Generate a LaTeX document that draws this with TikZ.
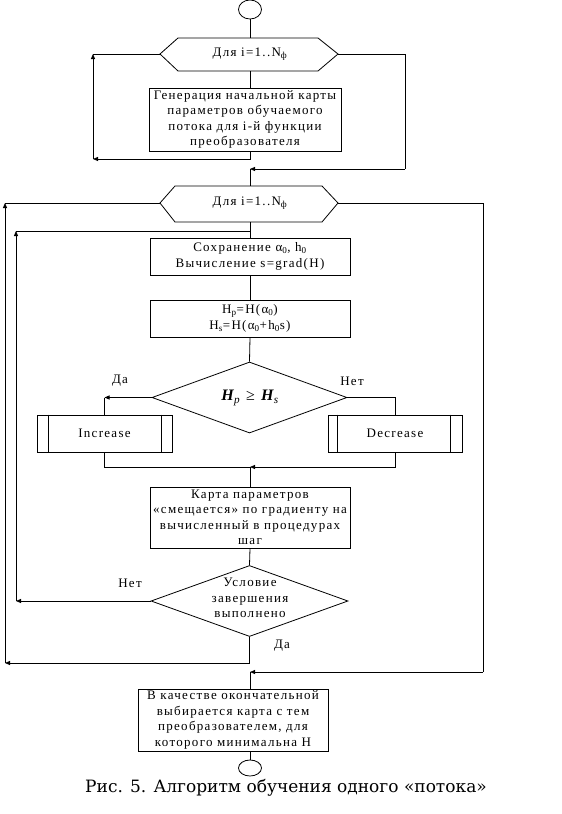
\documentclass[tikz,border=0pt]{standalone}
\usepackage{fontspec}
\setmainfont[LetterSpace=10]{Liberation Serif}
\newfontfamily\capfont{DejaVu Serif}
\newfontfamily\formfont{Liberation Serif}
\usetikzlibrary{arrows.meta,shapes.geometric,calc}
\begin{document}
\begin{tikzpicture}[x=1pt,y=-1pt,
  every node/.style={font=\fontsize{13}{15.5}\selectfont, align=center},
  box/.style={draw, rectangle, inner sep=0pt, line width=0.8pt},
  lin/.style={line width=0.8pt},
  arr/.style={lin, -{Triangle[length=5pt,width=4pt]}},
  dia/.style={draw, diamond, inner sep=0pt, line width=0.8pt},
  term/.style={draw, ellipse, inner sep=0pt, line width=0.8pt},
  lbl/.style={inner sep=0pt}
]
\fill[white] (0,0) rectangle (562,814);
\useasboundingbox (0,0) rectangle (562,814);

% terminals
\node[term, minimum width=23pt, minimum height=19pt] (s) at (250,9.5) {};
\node[term, minimum width=23pt, minimum height=16pt] (e) at (250,768) {};

% hexagon 1
\coordinate (h1w) at (160,54); \coordinate (h1e) at (338,54);
\coordinate (h1n) at (250,38); \coordinate (h1s) at (250,71);
\draw[lin] (h1w) -- (178,38) -- (318,38) -- (h1e) -- (318,71) -- (178,71) -- cycle;
\node[lbl] (hex1) at (250,54) {Для i=1..N\textsubscript{ф}};

% hexagon 2
\coordinate (h2w) at (160,203); \coordinate (h2e) at (338,203);
\coordinate (h2n) at (250,186); \coordinate (h2s) at (250,222);
\draw[lin] (h2w) -- (175,186) -- (322,186) -- (h2e) -- (322,222) -- (175,222) -- cycle;
\node[lbl] (hex2) at (250,203) {Для i=1..N\textsubscript{ф}};

% boxes
\node[box, minimum width=192pt, minimum height=63pt] (b1) at (245,119.5)
  {Генерация начальной карты\\параметров обучаемого\\потока для i-й функции\\преобразователя};
\node[box, minimum width=200pt, minimum height=37pt] (b2) at (250,256.5)
  {Сохранение α\textsubscript{0}, h\textsubscript{0}\\Вычисление s=grad(H)};
\node[box, minimum width=200pt, minimum height=37pt] (b3) at (250,318.5)
  {H\textsubscript{p}=H(α\textsubscript{0})\\H\textsubscript{s}=H(α\textsubscript{0}+h\textsubscript{0}s)};
\node[dia, minimum width=195pt, minimum height=71pt, aspect=2.75] (d1) at (249.5,397.5) {};
\node[lbl] (d1t) at (250,398) {\formfont\fontsize{16}{18}\selectfont\textbf{\textit{H}}\textsubscript{\textit{p}}\hspace{6pt}≥\hspace{6pt}\textbf{\textit{H}}\textsubscript{\textit{s}}};
\node[box, minimum width=135pt, minimum height=37pt] (inc) at (104.5,433.5) {Increase};
\node[box, minimum width=134pt, minimum height=37pt] (dec) at (395,433.5) {Decrease};
\draw[lin] ([xshift=12pt]inc.north west) -- ([xshift=12pt]inc.south west);
\draw[lin] ([xshift=-11pt]inc.north east) -- ([xshift=-11pt]inc.south east);
\draw[lin] ([xshift=10pt]dec.north west) -- ([xshift=10pt]dec.south west);
\draw[lin] ([xshift=-12pt]dec.north east) -- ([xshift=-12pt]dec.south east);
\node[box, minimum width=200pt, minimum height=61pt] (b4) at (250,517.5)
  {Карта параметров\\«смещается» по градиенту на\\вычисленный в процедурах\\шаг};
\node[dia, minimum width=197pt, minimum height=71pt, aspect=2.77] (d2) at (249.5,601) {};
\node[lbl] (d2t) at (250,598) {\fontsize{13}{14}\selectfont Условие\\завершения\\выполнено};
\node[box, minimum width=190pt, minimum height=62pt] (b5) at (233,720)
  {В качестве окончательной\\выбирается карта с тем\\преобразователем, для\\которого минимальна Н};

% labels
\node[lbl] (yes1) at (120,381) {Да};
\node[lbl] (no1) at (352,381) {Нет};
\node[lbl] (no2) at (130,583) {Нет};
\node[lbl] (yes2) at (282,646) {Да};

% caption
\node[lbl] (cap) at (286,788) {\capfont\fontsize{17}{20}\selectfont Рис. 5. Алгоритм обучения одного «потока»};

% coordinates
\coordinate (l1b) at (93,159); \coordinate (l1t) at (93,54);
\coordinate (r1t) at (405,54); \coordinate (r1b) at (405,169); \coordinate (j1) at (250,169);
\coordinate (o1t) at (5,203); \coordinate (o1b) at (5,663);
\coordinate (r2t) at (483,203); \coordinate (r2b) at (483,672); \coordinate (j4) at (250,672);
\coordinate (i1t) at (16,231); \coordinate (i1b) at (16,601); \coordinate (j2) at (250,231);
\coordinate (j5) at (250,467);

% connectors
\draw[lin] (s) -- (h1n);
\draw[lin] (h1s) -- (h1s |- b1.north);
\draw[arr] (h1s |- b1.south) |- (l1b);
\draw[arr] (l1b) -- (l1t);
\draw[lin] (l1t) -- (h1w);
\draw[lin] (h1e) -- (r1t) -- (r1b);
\draw[arr] (r1b) -- (j1);
\draw[lin] (j1) -- (h2n);
\draw[lin] (h2w) -- (o1t);
\draw[arr] (o1b) -- (o1t);
\draw[arr] (d2.south) |- (o1b);
\draw[lin] (h2e) -- (r2t) -- (r2b);
\draw[arr] (r2b) -- (j4);
\draw[lin] (j4) -- (j4 |- b5.north);
\draw[lin] (h2s) -- (b2.north);
\draw[lin] (i1t) -- (j2);
\draw[arr] (d2.west) -- (i1b);
\draw[arr] (i1b) -- (i1t);
\draw[lin] (b2.south) -- (b3.north);
\draw[lin] (b3.south) -- (d1.north);
\draw[arr] (d1.west) -- (inc.north |- d1.west);
\draw[lin] (inc.north |- d1.west) -- (inc.north);
\draw[lin] (d1.east) -| (dec.north);
\draw[lin] (inc.south) |- (j5);
\draw[arr] (dec.south) |- (j5);
\draw[lin] (j5) -- (b4.north);
\draw[lin] (b4.south) -- (d2.north);
\draw[lin] (e |- b5.south) -- (e);
\end{tikzpicture}
\end{document}
